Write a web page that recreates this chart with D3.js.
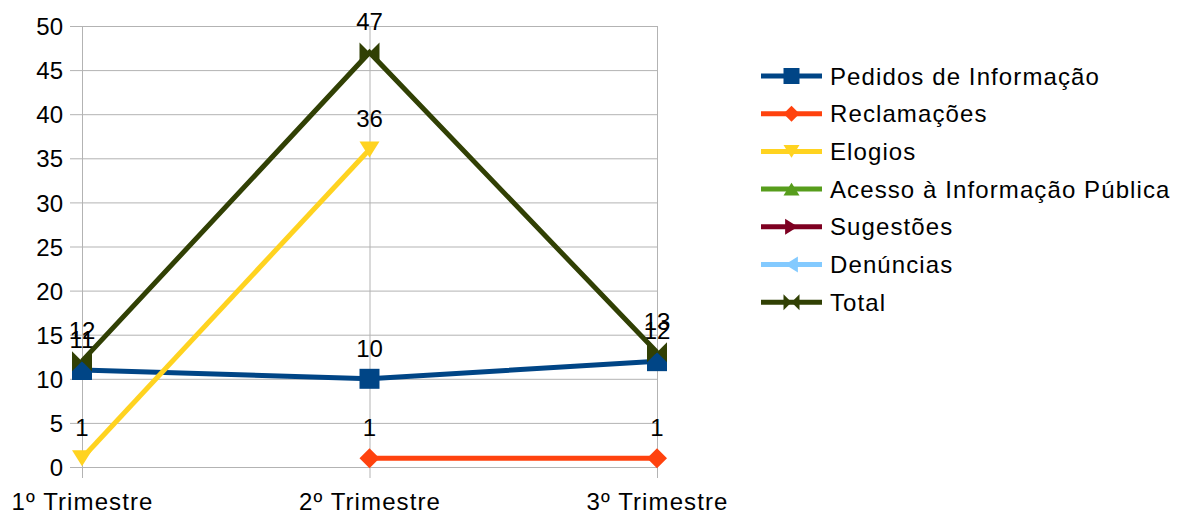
<!DOCTYPE html>
<html>
<head>
<meta charset="utf-8">
<script src="https://cdn.jsdelivr.net/npm/d3@7"></script>
<style>
  body { margin: 0; background: #fff; }
  text { font-family: "Liberation Sans", Arial, sans-serif; fill: #000; }
</style>
</head>
<body>
<div id="chart"></div>
<script>
// categories and series
var quarters = ["1º Trimestre", "2º Trimestre", "3º Trimestre"];
var seriesNames = ["Pedidos de Informação", "Reclamações", "Elogios", "Acesso à Informação Pública", "Sugestões", "Denúncias", "Total"];
var pedidos = [11, 10, 12];
var reclamacoes = [null, 1, 1];
var elogios = [1, 36, null];
var acesso = [null, null, null];
var sugestoes = [null, null, null];
var denuncias = [null, null, null];
var total = [12, 47, 13];
var yTicks = [0, 5, 10, 15, 20, 25, 30, 35, 40, 45, 50];

var colors = ["#004586", "#ff420e", "#ffd320", "#579d1c", "#7e0021", "#83caff", "#314004"];
var symbols = ["square", "diamond", "down", "up", "right", "left", "bowtie"];
var values = [pedidos, reclamacoes, elogios, acesso, sugestoes, denuncias, total];

var series = seriesNames.map(function(n, i) {
    return {name: n, color: colors[i], symbol: symbols[i], values: values[i]};
});

var W = 1184, H = 515;
var margin = {top: 26, left: 82, right: 527, bottom: 48};
var width = W - margin.left - margin.right,
    height = H - margin.top - margin.bottom;

var fontSize = "24px", spacing = "1.1px";

var x = d3.scalePoint().domain(quarters).range([0, width]);
var y = d3.scaleLinear().domain([0, 50]).range([height, 0]);

var svg = d3.select("#chart").append("svg")
    .attr("width", W)
    .attr("height", H);

var g = svg.append("g")
    .attr("transform", "translate(" + margin.left + "," + margin.top + ")");

// horizontal grid + y labels
var yAxis = d3.axisLeft(y).tickValues(yTicks).tickSize(-width - 12).tickPadding(7);
var yG = g.append("g")
    .attr("transform", "translate(" + (-12) + ",0)")
    .call(yAxis);
yG.select(".domain").remove();
yG.selectAll(".tick line").attr("stroke", "#b3b3b3").attr("x1", 0).attr("x2", width + 12);
yG.selectAll(".tick text").style("font-size", fontSize).attr("font-family", null).attr("dy", "0.36em");

// vertical grid + x labels
var xAxis = d3.axisBottom(x).tickSize(-height - 11).tickPadding(9);
var xG = g.append("g")
    .attr("transform", "translate(0," + (height + 11) + ")")
    .call(xAxis);
xG.select(".domain").remove();
xG.selectAll(".tick line").attr("stroke", "#b3b3b3");
xG.selectAll(".tick text").style("font-size", fontSize).style("letter-spacing", spacing)
    .attr("font-family", null).attr("dy", "0.95em");

function symbolPath(type, s) {
    var h = s / 2;
    switch (type) {
        case "square": return "M" + -h + "," + -h + "H" + h + "V" + h + "H" + -h + "Z";
        case "diamond": return "M0," + -h + "L" + h + ",0L0," + h + "L" + -h + ",0Z";
        case "down": return "M" + -h + "," + -h * 0.8 + "H" + h + "L0," + h * 0.8 + "Z";
        case "up": return "M" + -h + "," + h * 0.8 + "H" + h + "L0," + -h * 0.8 + "Z";
        case "right": return "M" + -h * 0.8 + "," + -h + "V" + h + "L" + h * 0.8 + ",0Z";
        case "left": return "M" + h * 0.8 + "," + -h + "V" + h + "L" + -h * 0.8 + ",0Z";
        case "bowtie": return "M" + -h + "," + -h + "L" + h + "," + h + "V" + -h + "L" + -h + "," + h + "Z";
    }
}

var line = d3.line()
    .defined(function(d) { return d != null; })
    .x(function(d, i) { return x(quarters[i]); })
    .y(function(d) { return y(d); });

series.forEach(function(s) {
    var sg = g.append("g");
    sg.append("path")
        .datum(s.values)
        .attr("fill", "none")
        .attr("stroke", s.color)
        .attr("stroke-width", 5)
        .attr("d", line);
    var pts = s.values.map(function(v, i) { return {v: v, q: quarters[i]}; })
        .filter(function(d) { return d.v != null; });
    sg.selectAll(".m").data(pts).enter().append("path")
        .attr("transform", function(d) { return "translate(" + x(d.q) + "," + y(d.v) + ")"; })
        .attr("d", symbolPath(s.symbol, 20))
        .attr("fill", s.color);
    sg.selectAll(".lbl").data(pts).enter().append("text")
        .attr("x", function(d) { return x(d.q); })
        .attr("y", function(d) { return y(d.v) - 22; })
        .attr("text-anchor", "middle")
        .style("font-size", fontSize)
        .text(function(d) { return d.v; });
});

// legend
var legend = svg.append("g").attr("transform", "translate(761,76)");
var rows = legend.selectAll("g").data(series).enter().append("g")
    .attr("transform", function(d, i) { return "translate(0," + (i * 37.7) + ")"; });
rows.append("line")
    .attr("x1", 0).attr("x2", 61)
    .attr("stroke", function(d) { return d.color; })
    .attr("stroke-width", 5);
rows.append("path")
    .attr("transform", "translate(30.5,0)")
    .attr("d", function(d) { return symbolPath(d.symbol, 16); })
    .attr("fill", function(d) { return d.color; });
rows.append("text")
    .attr("x", 69)
    .attr("dy", "0.36em")
    .style("font-size", fontSize)
    .style("letter-spacing", spacing)
    .text(function(d) { return d.name; });
</script>
</body>
</html>
